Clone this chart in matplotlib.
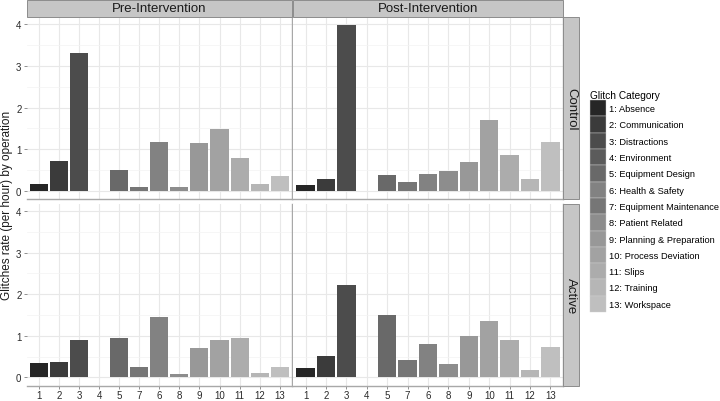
import numpy as np
import matplotlib.pyplot as plt
from matplotlib.patches import Patch, Rectangle

plt.rcParams['font.family'] = ['Liberation Sans', 'DejaVu Sans']

# category order on the x axis (as in the original, 7 comes before 6)
positions = [1, 2, 3, 4, 5, 7, 6, 8, 9, 10, 11, 12, 13]
tick_labels = ['1', '2', '3', '4', '5', '7', '6', '8', '9', '10', '11', '12', '13']
category_names = ['Absence', 'Communication', 'Distractions', 'Environment',
                  'Equipment Design', 'Health & Safety', 'Equipment Maintenance',
                  'Patient Related', 'Planning & Preparation', 'Process Deviation',
                  'Slips', 'Training', 'Workspace']

# rates in x-axis order
pre_control = [0.16, 0.71, 3.30, 0.0, 0.51, 0.10, 1.18, 0.09, 1.14, 1.48, 0.79, 0.17, 0.37]
post_control = [0.14, 0.29, 3.98, 0.0, 0.38, 0.21, 0.40, 0.48, 0.69, 1.69, 0.86, 0.29, 1.17]
pre_active = [0.34, 0.36, 0.89, 0.0, 0.94, 0.26, 1.46, 0.08, 0.70, 0.89, 0.94, 0.10, 0.26]
post_active = [0.23, 0.51, 2.23, 0.02, 1.51, 0.42, 0.81, 0.32, 0.99, 1.36, 0.90, 0.18, 0.74]

col_titles = ['Pre-Intervention', 'Post-Intervention']
row_titles = ['Control', 'Active']
panels = [[pre_control, post_control], [pre_active, post_active]]

# grey palette, dark to light
n = len(positions)
gam = 1.6
g = np.linspace(0.15 ** gam, 0.75 ** gam, n) ** (1 / gam)
colors = [(v, v, v) for v in g]

W, H = 720, 402
fig = plt.figure(figsize=(7.2, 4.02), dpi=100)

xs = [(27, 291.7), (293.3, 562.7)]
ys = [(17.5, 200.4), (204.5, 386.8)]

def fx(px):
    return px / W

def fy(py):
    return 1 - py / H

border = '#a8a8a8'
x = np.arange(1, n + 1)

for r in range(2):
    for c in range(2):
        x0, x1 = xs[c]
        y0, y1 = ys[r]
        ax = fig.add_axes([fx(x0), fy(y1), fx(x1 - x0), (y1 - y0) / H])
        ax.bar(x, panels[r][c], width=0.9, color=colors, zorder=3)
        ax.set_xlim(0.4, 13.6)
        ax.set_ylim(-0.2, 4.18)
        ax.set_xticks(x)
        ax.set_yticks([0, 1, 2, 3, 4])
        ax.set_yticks([0.5, 1.5, 2.5, 3.5], minor=True)
        ax.grid(True, which='major', color='#e8e8e8', lw=0.8, zorder=0)
        ax.grid(True, which='minor', axis='y', color='#f3f3f3', lw=0.5, zorder=0)
        for s in ['top', 'left']:
            ax.spines[s].set_visible(False)
        for s in ['bottom', 'right']:
            ax.spines[s].set_color(border)
            ax.spines[s].set_linewidth(1.0)
        ax.tick_params(which='major', colors='#7f7f7f', length=2.5, width=0.6,
                       labelcolor='#2a2a2a', labelsize=7, pad=0.8)
        ax.tick_params(which='minor', length=0)
        ax.tick_params(axis='y', left=(c == 0), right=False, labelleft=(c == 0), pad=1.5)
        ax.tick_params(axis='x', bottom=(r == 1), labelbottom=(r == 1))
        if r == 1:
            ax.set_xticklabels(tick_labels)

# column strips
strip_fc = '#c6c6c6'
strip_ec = '#8c8c8c'
for c in range(2):
    x0, x1 = xs[c]
    fig.patches.append(Rectangle((fx(x0), fy(17.5)), fx(x1 - x0), (17.5 - 1) / H,
                                 transform=fig.transFigure, fc=strip_fc, ec=strip_ec, lw=0.7))
    fig.text(fx((x0 + x1) / 2), fy(9.5), col_titles[c], ha='center', va='center',
             fontsize=9.5, color='#1a1a1a')

# row strips
for r in range(2):
    y0, y1 = ys[r]
    fig.patches.append(Rectangle((fx(563), fy(y1)), fx(579 - 563), (y1 - y0) / H,
                                 transform=fig.transFigure, fc=strip_fc, ec=strip_ec, lw=0.7))
    fig.text(fx(571), fy((y0 + y1) / 2), row_titles[r], ha='center', va='center',
             rotation=270, fontsize=9.5, color='#1a1a1a')

fig.text(fx(7.5), fy(205), 'Glitches rate (per hour) by operation', rotation=90,
         ha='center', va='center', fontsize=8.5, color='#1a1a1a')

# legend in numeric order, colour taken from the bar's position
handles = []
for k in range(n):
    idx = positions.index(k + 1)
    handles.append(Patch(facecolor=colors[idx], edgecolor='#d0d0d0', lw=0.3,
                         label=f'{k + 1}: {category_names[k]}'))
fig.legend(handles=handles, title='Glitch Category', loc='upper left',
           bbox_to_anchor=(fx(590), fy(91)), frameon=False, fontsize=6.7,
           title_fontsize=7.3, handlelength=1.72, handleheight=2.32,
           labelspacing=0, handletextpad=0.35, borderpad=0, borderaxespad=0,
           alignment='left')

fig.savefig('out.png', dpi=100)
